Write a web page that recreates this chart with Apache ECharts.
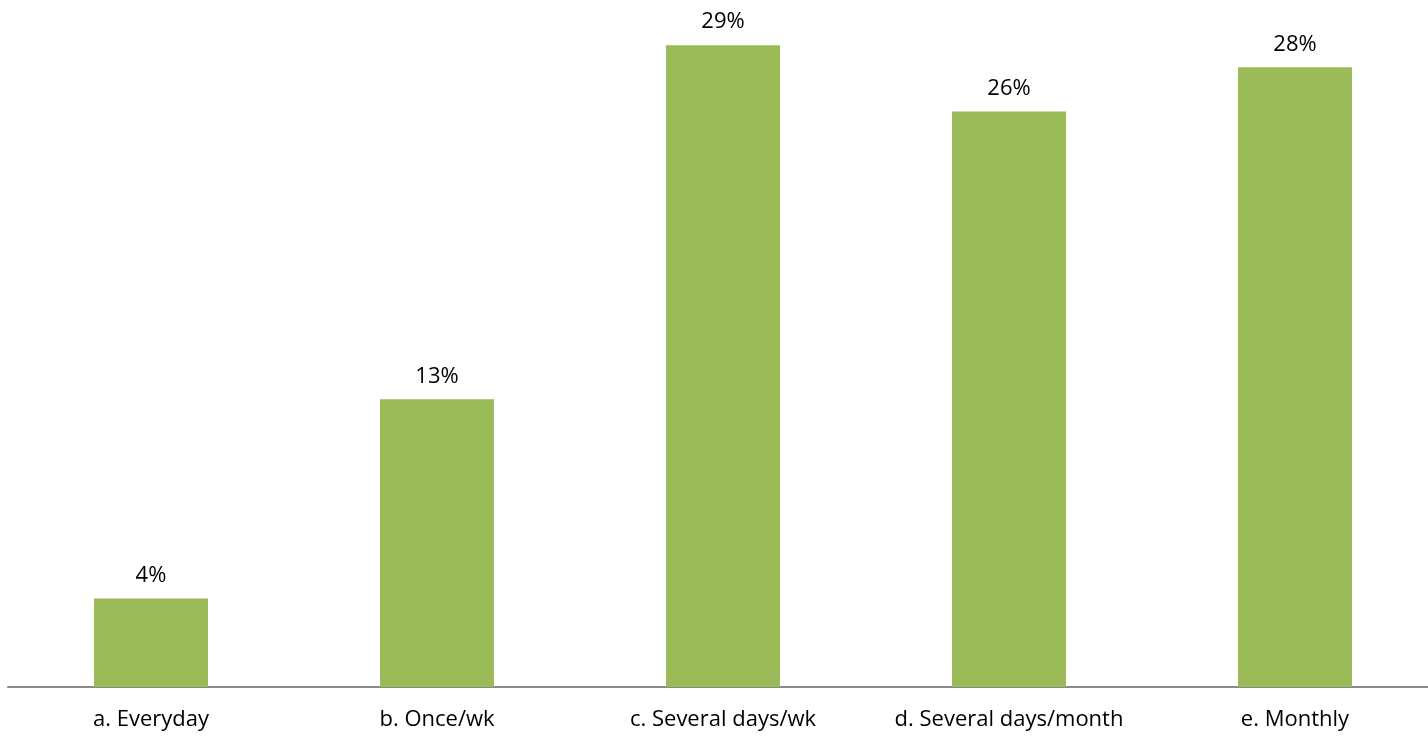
<!DOCTYPE html>
<html>
<head>
<meta charset="utf-8">
<script src="https://cdn.jsdelivr.net/npm/echarts@6/dist/echarts.min.js"></script>
<style>
  html, body { margin: 0; padding: 0; background: #ffffff; overflow: hidden; }
  #chart { width: 1438px; height: 739px; }
</style>
</head>
<body>
<div id="chart"></div>
<script>
// How often respondents do it (share of respondents, %)
const categories = ['a. Everyday', 'b. Once/wk', 'c. Several days/wk', 'd. Several days/month', 'e. Monthly'];
const shares = [4, 13, 29, 26, 28];

const chart = echarts.init(document.getElementById('chart'), null, { renderer: 'canvas' });

chart.setOption({
  animation: false,
  backgroundColor: '#ffffff',
  grid: { left: 8, top: 23, right: 0, bottom: 52, containLabel: false },
  xAxis: {
    type: 'category',
    data: categories,
    axisLine: { show: true, lineStyle: { color: '#898989', width: 2 } },
    axisTick: { show: false },
    axisLabel: {
      color: '#000000',
      fontFamily: 'Open Sans, sans-serif',
      fontSize: 22,
      margin: 22,
      interval: 0
    }
  },
  yAxis: {
    type: 'value',
    min: 0,
    max: 30,
    show: false,
    splitLine: { show: false }
  },
  series: [{
    type: 'bar',
    data: shares,
    barWidth: 114,
    itemStyle: { color: '#9BBB59' },
    label: {
      show: true,
      position: 'top',
      distance: 12,
      formatter: p => p.value + '%',
      color: '#000000',
      fontFamily: 'Open Sans, sans-serif',
      fontSize: 22
    }
  }]
});
</script>
</body>
</html>
